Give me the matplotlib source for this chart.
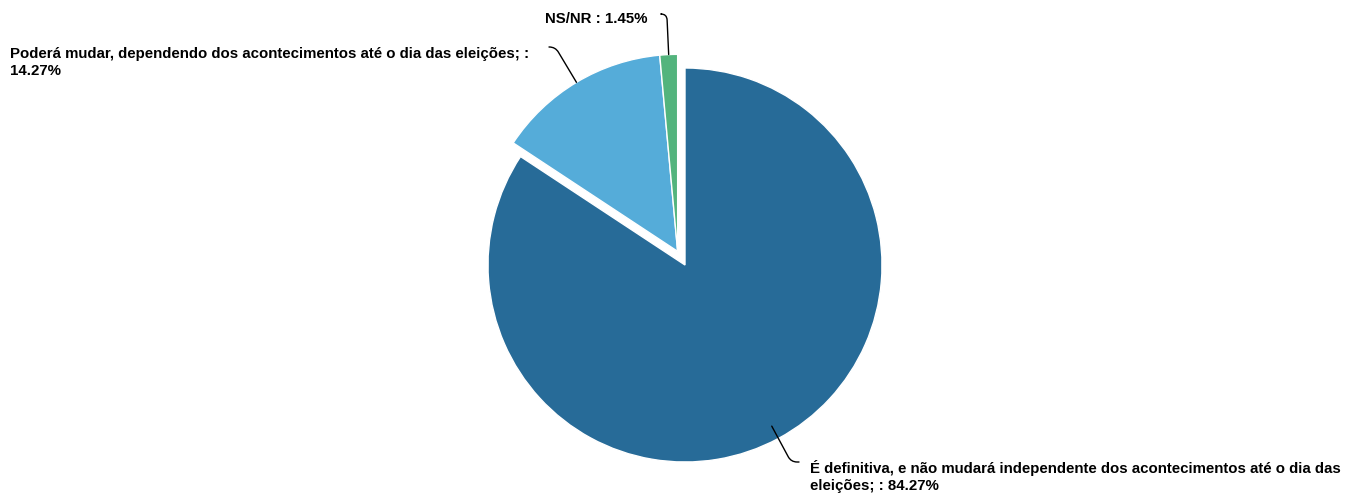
import numpy as np
import matplotlib
matplotlib.use("Agg")
import matplotlib.pyplot as plt

plt.rcParams['font.family'] = ['Liberation Sans', 'DejaVu Sans']

# dados do grafico
categorias = [
    "É definitiva, e não mudará independente dos acontecimentos até o dia das\neleições; : 84.27%",
    "Poderá mudar, dependendo dos acontecimentos até o dia das eleições; :\n14.27%",
    "NS/NR : 1.45%",
]
valores = [84.27, 14.27, 1.45]
cores = ["#276b98", "#55acd9", "#53b47d"]

W, H = 1354, 493
cx, cy, R = 685, H - 265, 197

fig = plt.figure(figsize=(W / 100, H / 100), dpi=100)
ax = fig.add_axes([0, 0, 1, 1])

wedges, _ = ax.pie(valores, colors=cores, startangle=90, counterclock=False,
                   radius=R, center=(cx, cy),
                   wedgeprops=dict(edgecolor="white", linewidth=1))

# fatias destacadas (as duas menores juntas)
ang_grupo = np.deg2rad(90 + sum(valores[1:]) / 2 * 3.6)
desloc = 15.5
gx, gy = cx + desloc * np.cos(ang_grupo), cy + desloc * np.sin(ang_grupo)
for w in wedges[1:]:
    w.set_center((gx, gy))

# posicao dos textos (x, y da linha de base da ultima linha) e fim do conector
textos = [(810, 490), (10, 75), (545, 23)]
fins = [(799, 462), (549, 47), (661, 14)]
raio_ancora = [183, 197, 197]

for w, lab, (tx, ty), (ex, ey), ra in zip(wedges, categorias, textos, fins, raio_ancora):
    meio = (w.theta1 + w.theta2) / 2
    c = w.center
    px = c[0] + ra * np.cos(np.deg2rad(meio))
    py = c[1] + ra * np.sin(np.deg2rad(meio))
    ax.annotate("", xy=(px, py), xytext=(ex, H - ey),
                arrowprops=dict(arrowstyle="-", color="black", lw=1,
                                shrinkA=0, shrinkB=0,
                                connectionstyle=f"angle,angleA=0,angleB={meio},rad=6"))
    ax.text(tx, H - ty, lab, ha="left", va="baseline", fontsize=10.85,
            fontweight="bold", color="black", linespacing=1.3)

ax.set_xlim(0, W)
ax.set_ylim(0, H)
ax.axis("off")

fig.savefig("out.png", dpi=100)
